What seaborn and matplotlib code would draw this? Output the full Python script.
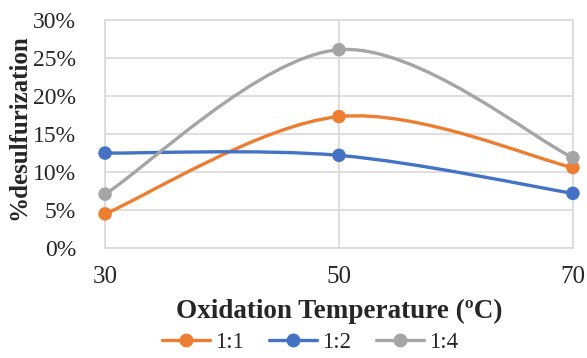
import numpy as np
import pandas as pd
import seaborn as sns
import matplotlib.pyplot as plt
from matplotlib.path import Path
from matplotlib.patches import PathPatch
from matplotlib.lines import Line2D
from matplotlib.ticker import PercentFormatter

temps = [30, 50, 70]
series = ["1:1", "1:2", "1:4"]
ratio_11 = [4.5, 17.3, 10.6]
ratio_12 = [12.5, 12.2, 7.2]
ratio_14 = [7.1, 26.1, 11.9]
colors = ["#ED7D31", "#4472C4", "#A5A5A5"]

df = pd.DataFrame({
    "temp": temps * 3,
    "value": ratio_11 + ratio_12 + ratio_14,
    "ratio": [s for s in series for _ in temps],
})

sns.set_style("white")
plt.rcParams["font.family"] = ["Liberation Serif", "DejaVu Serif"]

fig, ax = plt.subplots(figsize=(5.87, 3.58), dpi=100)
fig.subplots_adjust(left=0.179, right=0.976, top=0.944, bottom=0.307)


def smooth_path(xs, ys):
    # Excel-style smoothed line: cubic bezier segments, Catmull-Rom control points
    pts = np.column_stack([xs, ys]).astype(float)
    n = len(pts)
    verts = [pts[0]]
    codes = [Path.MOVETO]
    for i in range(n - 1):
        p0 = pts[max(i - 1, 0)]
        p1 = pts[i]
        p2 = pts[i + 1]
        p3 = pts[min(i + 2, n - 1)]
        verts += [p1 + (p2 - p0) / 6, p2 - (p3 - p1) / 6, p2]
        codes += [Path.CURVE4] * 3
    return Path(verts, codes)


for i, (name, col) in enumerate(zip(series, colors)):
    sub = df[df["ratio"] == name]
    patch = PathPatch(smooth_path(sub["temp"], sub["value"]), facecolor="none",
                      edgecolor=col, lw=2.4, zorder=3 + i, clip_on=False)
    ax.add_patch(patch)

sns.scatterplot(data=df, x="temp", y="value", hue="ratio", palette=colors,
                s=95, edgecolor="none", legend=False, ax=ax, zorder=10, clip_on=False)

ax.set_xlim(30, 70)
ax.set_ylim(0, 30)
ax.set_xticks(temps)
ax.set_yticks(np.arange(0, 31, 5))
ax.yaxis.set_major_formatter(PercentFormatter(decimals=0))
ax.grid(True, color="#D9D9D9", lw=1.2)
for sp in ax.spines.values():
    sp.set_color("#D9D9D9")
    sp.set_linewidth(1.2)
ax.tick_params(axis="both", length=0, labelsize=18)
ax.tick_params(axis="y", labelsize=17, pad=21)
ax.tick_params(axis="x", pad=13)

ax.set_xlabel("Oxidation Temperature (ºC)", fontsize=19.5, fontweight="bold", labelpad=8)
ax.set_ylabel("%desulfurization", fontsize=18, fontweight="bold", labelpad=8)
ax.yaxis.set_label_coords(-0.16, 0.53)

handles = [Line2D([], [], color=c, lw=2.4, marker="o", markersize=9) for c in colors]
fig.legend(handles, series, loc="lower center", ncol=3, frameon=False,
           bbox_to_anchor=(0.528, -0.045), fontsize=16.5, handlelength=2.1,
           handletextpad=0.2, columnspacing=1.1)

fig.savefig("out.png", dpi=100)
